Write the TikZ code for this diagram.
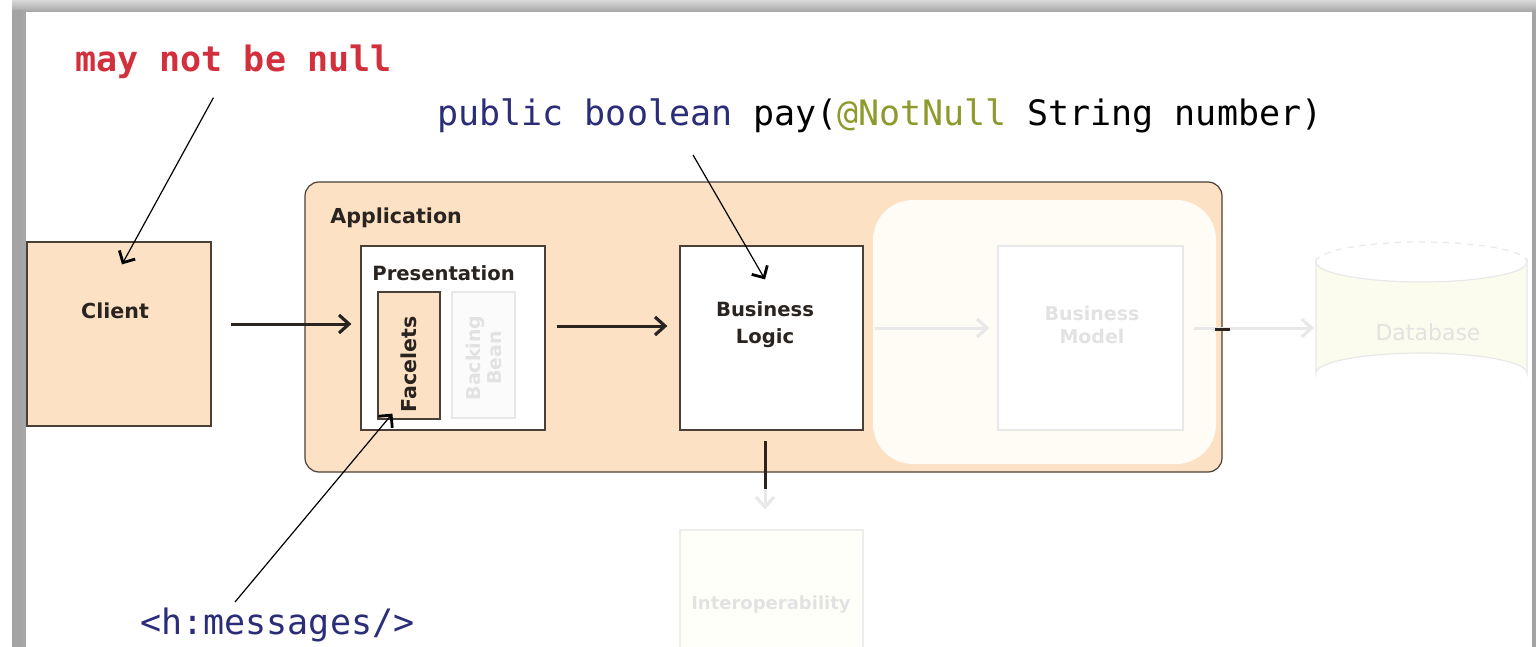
\documentclass[tikz,border=0pt]{standalone}
\usepackage{fontspec}
\setsansfont{DejaVu Sans}
\newfontfamily\codefont{DejaVu Sans Mono}
\usetikzlibrary{arrows.meta,calc}

\definecolor{peach}{HTML}{FCE1C4}
\definecolor{edge}{HTML}{4B4038}
\definecolor{ink}{HTML}{2A2420}
\definecolor{codered}{HTML}{D2303C}
\definecolor{codeblue}{HTML}{2B2D78}
\definecolor{codeolive}{HTML}{8E9A2C}
\definecolor{ghostline}{HTML}{E8E8E8}
\definecolor{ghosttext}{HTML}{E2E2E2}
\definecolor{ghostfill}{HTML}{FFFCF6}
\definecolor{dbfill}{HTML}{FCFCEE}
\definecolor{framegray}{HTML}{A4A4A4}

\tikzset{
  box/.style={draw=edge, line width=0.6pt, inner sep=0pt},
  peachbox/.style={box, fill=peach},
  whitebox/.style={box, fill=white},
  ghostbox/.style={draw=ghostline, line width=0.6pt, fill=white, inner sep=0pt},
  label/.style={font=\sffamily\bfseries\fontsize{10.3}{12}\selectfont, text=ink, inner sep=0pt},
  ghostlabel/.style={font=\sffamily\bfseries\fontsize{9.5}{11.5}\selectfont, text=ghosttext, inner sep=0pt, align=center},
  code/.style={font=\codefont\fontsize{17.5}{20}\selectfont, inner sep=0pt, anchor=base west},
  flow/.style={draw=ink, line width=1.5pt, -{Straight Barb[length=5pt,width=9pt,line width=1.6pt]}},
  ghostflow/.style={draw=ghostline, line width=1.5pt, -{Straight Barb[length=5pt,width=9pt,line width=1.6pt]}},
  pointer/.style={draw=black, line width=0.6pt, -{Straight Barb[length=4.5pt,width=9pt,line width=1.4pt]}},
}

\begin{document}
\begin{tikzpicture}[x=0.5pt,y=-0.5pt]
\useasboundingbox (0,0) rectangle (1536,647);
\fill[white] (0,0) rectangle (1536,647);

% window frame
\shade[top color=gray!30, bottom color=framegray] (12,0) rectangle (1536,12);
\fill[framegray] (12,10) rectangle (26,647);
\fill[gray!70] (22,10) rectangle (26,647);
\fill[framegray] (1532,10) rectangle (1536,647);

% client
\node[peachbox, minimum width=92pt, minimum height=92pt] (client) at (119,334) {};
\node[label] (clientlbl) at (115,311) {Client};

% application container
\node[peachbox, rounded corners=7pt, minimum width=458.5pt, minimum height=145pt] (app) at (763.5,327) {};
\node[label, anchor=west] (applbl) at (330,218) {Application};

% faded persistence area
\node[fill=ghostfill, rounded corners=20pt, minimum width=171.5pt, minimum height=132pt, inner sep=0pt] (persist) at (1044.5,332) {};

% presentation layer
\node[whitebox, minimum width=92pt, minimum height=92pt] (pres) at (453,338) {};
\node[label, anchor=west, font=\sffamily\bfseries\fontsize{9.8}{12}\selectfont] (preslbl) at (372,273) {Presentation};
\node[peachbox, minimum width=31pt, minimum height=63.5pt] (facelets) at (409,355.5) {};
\node[label, rotate=90] (faceletslbl) at (409,364) {Facelets};
\node[draw=ghostline, fill=white!97!gray, line width=0.6pt, minimum width=31.5pt, minimum height=63pt, inner sep=0pt] (backing) at (483.5,355) {};
\node[ghostlabel, rotate=90, font=\sffamily\bfseries\fontsize{9.5}{10.5}\selectfont] (backinglbl) at (483.5,358) {Backing\\Bean};

% business logic
\node[whitebox, minimum width=91.5pt, minimum height=92pt] (logic) at (771.5,338) {};
\node[label, align=center, font=\sffamily\bfseries\fontsize{9.8}{13.5}\selectfont] (logiclbl) at (765,325) {Business\\Logic};

% business model (faded)
\node[ghostbox, minimum width=92.5pt, minimum height=92pt] (model) at (1090.5,338) {};
\node[ghostlabel] (modellbl) at (1092,325) {Business\\Model};

% database (faded cylinder)
\coordinate (db) at (1316,316);
\path[draw=ghostline, line width=0.6pt, fill=dbfill]
  (1316,262) -- (1316,373) arc[start angle=180, end angle=360, x radius=105.5, y radius=20]
  -- (1527,262) arc[start angle=0, end angle=180, x radius=105.5, y radius=20] -- cycle;
\draw[ghostline, line width=0.6pt, dashed] (1316,262) arc[start angle=180, end angle=360, x radius=105.5, y radius=20];
\node[ghostlabel, font=\sffamily\fontsize{11}{13}\selectfont] (dblbl) at (1428,332) {Database};

% interoperability (faded)
\node[draw=ghostline!80, fill=white!98!yellow, line width=0.6pt, minimum width=91.5pt, minimum height=65pt, inner sep=0pt] (interop) at (771.5,595) {};
\node[ghostlabel, font=\sffamily\bfseries\fontsize{9}{11}\selectfont] (interoplbl) at (771,605) {Interoperability};

% request flow
\draw[flow] ([xshift=9.5pt,yshift=5pt]client.east) -- ([xshift=-4.5pt,yshift=7pt]pres.west);
\draw[flow] ([xshift=5.5pt,yshift=6pt]pres.east) -- ([xshift=-6pt,yshift=6pt]logic.west);
\draw[ghostflow] ([xshift=5.5pt,yshift=5pt]logic.east) -- ([xshift=-4pt,yshift=5pt]model.west);
\draw[ghostflow] ([xshift=5pt,yshift=5pt]model.east) -- ([xshift=-1pt,yshift=5pt]db |- model.east);
\draw[ink, line width=1.5pt] ([xshift=-4pt,yshift=-1pt]app.east) -- ([xshift=3.5pt,yshift=-1pt]app.east);
\draw[ghostflow] ([xshift=-3.25pt,yshift=-24pt]logic.south) -- ([xshift=-3.25pt,yshift=10pt]interop.north);
\draw[ink, line width=1.5pt] ([xshift=-3.25pt,yshift=-5pt]logic.south) -- ([xshift=-3.25pt,yshift=-29pt]logic.south);

% code annotations
\node[code, text=codered, font=\codefont\bfseries\fontsize{17.5}{20}\selectfont] (notnull) at (75,72) {may not be null};
\node[code] (sig) at (437,126) {\textcolor{codeblue}{public boolean} pay(\textcolor{codeolive}{@NotNull} String number)};
\node[code, text=codeblue] (msgs) at (140,634) {<h:messages/>};

\draw[pointer] ([xshift=-10pt,yshift=-9pt]notnull.south) -- ([xshift=1.5pt,yshift=-11.5pt]client.north);
\draw[pointer] ([xshift=128pt,yshift=-10.5pt]sig.south west) -- ([xshift=-3.25pt,yshift=-17pt]logic.north);
\draw[pointer] ([xshift=47.5pt,yshift=2.5pt]msgs.north west) -- ([xshift=7.5pt,yshift=3pt]facelets.south west);
\end{tikzpicture}
\end{document}
